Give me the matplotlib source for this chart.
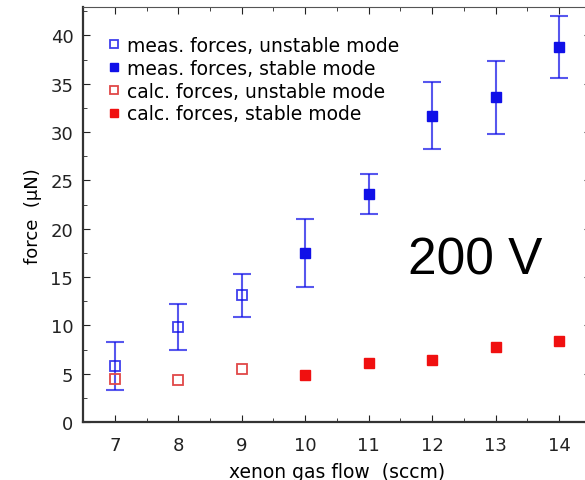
import matplotlib.pyplot as plt
from matplotlib.ticker import MultipleLocator

# xenon gas flow (sccm) and forces (uN)
flow_unstable = [7, 8, 9]
flow_stable = [10, 11, 12, 13, 14]

meas_unstable = [5.8, 9.8, 13.1]
meas_unstable_err = [2.5, 2.4, 2.2]
meas_stable = [17.5, 23.6, 31.7, 33.6, 38.8]
meas_stable_err = [3.5, 2.1, 3.5, 3.8, 3.2]

calc_unstable = [4.4, 4.3, 5.5]
calc_stable = [4.9, 6.1, 6.4, 7.8, 8.4]

blue = '#1010e8'
red = '#f01010'

fig = plt.figure(figsize=(5.85, 4.81), dpi=100)
ax = fig.add_axes([0.142, 0.1206, 0.868, 0.862])

ax.errorbar(flow_unstable, meas_unstable, yerr=meas_unstable_err, fmt='none',
            ecolor=blue, alpha=0.7, elinewidth=1.5, capsize=6.5, capthick=1.5)
ax.errorbar(flow_stable, meas_stable, yerr=meas_stable_err, fmt='none',
            ecolor=blue, alpha=0.7, elinewidth=1.5, capsize=6.5, capthick=1.5)

ax.plot(flow_unstable, meas_unstable, 's', ms=7, mfc='none', mec=blue,
        mew=1.3, alpha=0.8, label='meas. forces, unstable mode')
ax.plot(flow_stable, meas_stable, 's', ms=7, mfc=blue, mec=blue,
        label='meas. forces, stable mode')
ax.plot(flow_unstable, calc_unstable, 's', ms=7, mfc='none', mec='#e04848',
        mew=1.3, label='calc. forces, unstable mode')
ax.plot(flow_stable, calc_stable, 's', ms=7, mfc=red, mec=red,
        label='calc. forces, stable mode')

ax.set_xlim(6.5, 14.5)
ax.set_ylim(0, 42.9)
ax.xaxis.set_major_locator(MultipleLocator(1))
ax.xaxis.set_minor_locator(MultipleLocator(0.5))
ax.yaxis.set_major_locator(MultipleLocator(5))
ax.yaxis.set_minor_locator(MultipleLocator(2.5))
ax.tick_params(which='both', direction='in', top=True, right=True,
               labelsize=13, colors='#222222')
ax.tick_params(which='major', length=5)
ax.tick_params(axis='x', which='major', pad=10)
ax.tick_params(axis='y', which='major', pad=7)
ax.tick_params(which='minor', length=3)

for side in ['left', 'bottom']:
    ax.spines[side].set_linewidth(1.6)
    ax.spines[side].set_color('#333333')
ax.spines['top'].set_linewidth(0.8)
ax.spines['top'].set_color('#555555')

ax.set_xlabel('xenon gas flow  (sccm)', fontsize=13.5, labelpad=6)
ax.set_ylabel('force  (\u00b5N)', fontsize=13, labelpad=6)

ax.legend(loc='upper left', frameon=False, fontsize=13.5, handlelength=0.5,
          handletextpad=0.45, labelspacing=0.2, borderaxespad=0.2,
          bbox_to_anchor=(0.03, 0.958), markerscale=0.85)

ax.text(12.68, 16.8, '200 V', fontsize=37, family='Liberation Sans',
        ha='center', va='center')

fig.savefig('out.png', dpi=100)
